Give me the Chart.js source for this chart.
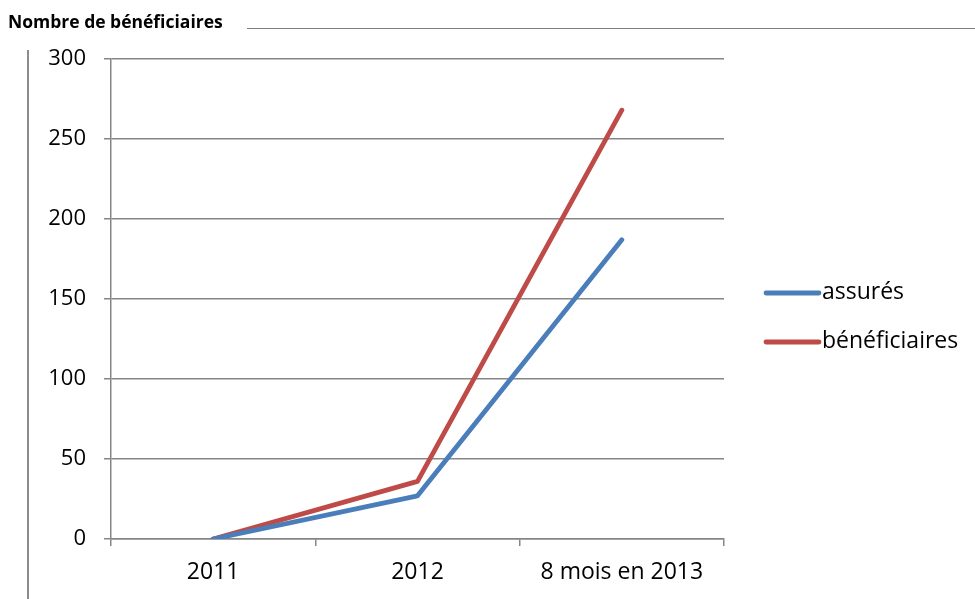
<!DOCTYPE html>
<html lang="fr">
<head>
<meta charset="utf-8">
<script src="https://cdn.jsdelivr.net/npm/chart.js@4/dist/chart.umd.min.js"></script>
<style>
  html, body { margin: 0; padding: 0; background: #fff; }
  #wrap { position: relative; width: 975px; height: 599px; overflow: hidden; }
  #chart { position: absolute; left: 0; top: 0; }
  #title { position: absolute; left: 8px; top: 9px; font: bold 17.5px/24px "Open Sans", sans-serif; color: #000; }
  #rule { position: absolute; left: 247px; top: 28px; width: 728px; height: 0; border-top: 1px solid #7f7f7f; }
  #side { position: absolute; left: 27px; top: 50px; width: 0; height: 560px; border-left: 2px solid #8c8c8c; }
</style>
</head>
<body>
<div id="wrap">
  <canvas id="chart" width="975" height="599"></canvas>
  <div id="title">Nombre de bénéficiaires</div>
  <div id="rule"></div>
  <div id="side"></div>
</div>
<script>
// Périodes et effectifs
const categories = ["2011", "2012", "8 mois en 2013"];
const assures = [0, 27, 187];
const beneficiaires = [0, 36, 268];
const yTicks = [0, 50, 100, 150, 200, 250, 300];

const FONT = '"Open Sans", sans-serif';
const GRID = '#868686';

// Légende dessinée à droite de la zone de tracé
const sideLegend = {
  id: 'sideLegend',
  afterDraw(chart) {
    const ctx = chart.ctx;
    const x0 = 766, x1 = 819, tx = 822;
    const ys = [293, 342];
    chart.data.datasets.forEach((ds, i) => {
      ctx.save();
      ctx.strokeStyle = ds.borderColor;
      ctx.lineWidth = ds.borderWidth;
      ctx.lineCap = 'round';
      ctx.beginPath();
      ctx.moveTo(x0, ys[i]);
      ctx.lineTo(x1, ys[i]);
      ctx.stroke();
      ctx.fillStyle = '#000';
      ctx.font = '23px ' + FONT;
      ctx.textBaseline = 'middle';
      ctx.fillText(ds.label, tx, ys[i] - 1);
      ctx.restore();
    });
  }
};

new Chart(document.getElementById('chart'), {
  type: 'line',
  data: {
    labels: categories,
    datasets: [
      { label: 'assurés', data: assures, borderColor: '#4A7EBB', backgroundColor: '#4A7EBB',
        borderWidth: 4.8, pointRadius: 0, tension: 0, borderCapStyle: 'round', borderJoinStyle: 'round' },
      { label: 'bénéficiaires', data: beneficiaires, borderColor: '#BE4B48', backgroundColor: '#BE4B48',
        borderWidth: 4.8, pointRadius: 0, tension: 0, borderCapStyle: 'round', borderJoinStyle: 'round' }
    ]
  },
  options: {
    responsive: false,
    animation: false,
    layout: { padding: { left: 0, top: 59, right: 251, bottom: 0 } },
    plugins: { legend: { display: false }, tooltip: { enabled: false } },
    scales: {
      x: {
        offset: true,
        afterFit(scale) { scale.height = 60; },
        grid: { offset: true, drawOnChartArea: false, drawTicks: true, tickLength: 7, color: GRID, lineWidth: 1.5 },
        border: { display: true, color: GRID, width: 1.5 },
        ticks: { color: '#000', font: { family: FONT, size: 23 }, padding: 13 }
      },
      y: {
        min: 0, max: 300,
        afterFit(scale) { scale.width = 111; },
        afterBuildTicks(scale) { scale.ticks = yTicks.map(v => ({ value: v })); },
        grid: { color: GRID, lineWidth: 1.5, tickLength: 7 },
        border: { display: true, color: GRID, width: 1.5 },
        ticks: { color: '#000', font: { family: FONT, size: 22 }, padding: 18 }
      }
    }
  },
  plugins: [sideLegend]
});
</script>
</body>
</html>
